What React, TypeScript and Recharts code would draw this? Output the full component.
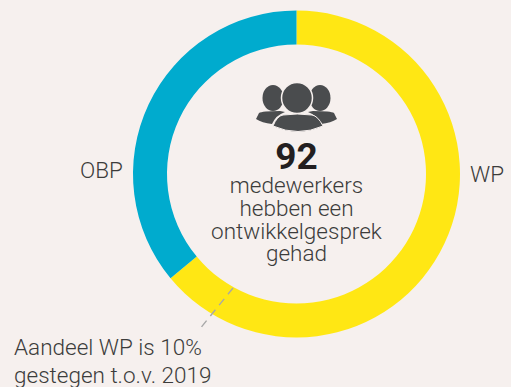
import { Cell, Pie, PieChart } from 'recharts'

const categories = ['WP', 'OBP']
const shares = [64, 36]
const colors = ['#FFE714', '#00ABCE']
const centerLines = ['medewerkers', 'hebben een', 'ontwikkelgesprek', 'gehad']
const noteLines = ['Aandeel WP is 10%', 'gestegen t.o.v. 2019']
const total = '92'

const data = categories.map((name, i) => ({ name, value: shares[i] }))
const font = 'Roboto, sans-serif'
const ink = '#3c3c3b'

function PeopleIcon() {
  return (
    <g fill="#4a4c4e">
      <ellipse cx="273" cy="98" rx="10.5" ry="13" />
      <ellipse cx="320" cy="98" rx="10.5" ry="13" />
      <path d="M256 119 L259 113 Q262 111 280 111 L285 112 Q276 115 272 124 Q262 123 256 119 Z" />
      <path d="M337 119 L334 113 Q331 111 313 111 L308 112 Q317 115 321 124 Q331 123 337 119 Z" />
      <circle cx="297" cy="98" r="15.5" fill="#4a4c4e" stroke="#f6f0ee" strokeWidth="1.5" />
      <path d="M273 126 Q277 116 283 115 Q297 113 312 115 Q318 116 323 126 Q298 137 273 126 Z" stroke="#f6f0ee" strokeWidth="1" />
    </g>
  )
}

export default function App() {
  return (
    <div style={{ position: 'fixed', left: 0, top: 0, width: 511, height: 387, background: '#f6f0ee', overflow: 'hidden' }}>
      <PieChart width={511} height={387} margin={{ top: 0, right: 0, bottom: 0, left: 0 }}>
        <Pie
          data={data}
          dataKey="value"
          cx={296.5}
          cy={174}
          innerRadius={129.5}
          outerRadius={163.5}
          startAngle={90}
          endAngle={-270}
          stroke="none"
          isAnimationActive={false}
        >
          {data.map((d, i) => (
            <Cell key={d.name} fill={colors[i]} />
          ))}
        </Pie>
      </PieChart>
      <svg width={511} height={387} style={{ position: 'absolute', left: 0, top: 0 }} fontFamily={font}>
        <line x1="233" y1="288" x2="199" y2="330" stroke="#a8a8a8" strokeWidth="1.4" strokeDasharray="8 6" />
        <PeopleIcon />
        <text x="296.5" y="169" textAnchor="middle" fontSize="37" fontWeight="700" fill="#231f20">{total}</text>
        {centerLines.map((t, i) => (
          <text key={t} x="296.5" y={193 + i * 22.8} textAnchor="middle" fontSize="22.5" fontWeight="300" fill={ink}>{t}</text>
        ))}
        <text x="80" y="178" fontSize="22.5" fontWeight="300" fill={ink}>{categories[1]}</text>
        <text x="470" y="182" fontSize="22.5" fontWeight="300" fill={ink}>{categories[0]}</text>
        {noteLines.map((t, i) => (
          <text key={t} x="14" y={355 + i * 28} fontSize="22.5" fontWeight="300" fill={ink}>{t}</text>
        ))}
      </svg>
    </div>
  )
}
